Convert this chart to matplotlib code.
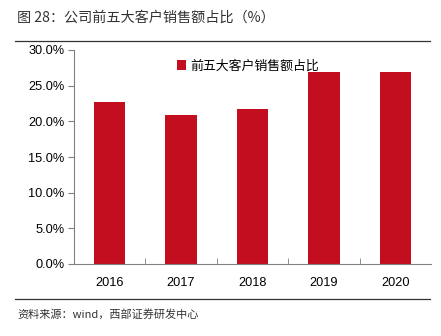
import numpy as np
import matplotlib.pyplot as plt
from matplotlib.lines import Line2D

plt.rcParams['font.family'] = ['Liberation Sans', 'Noto Sans CJK SC', 'DejaVu Sans']

years = ['2016', '2017', '2018', '2019', '2020']
share = [22.7, 20.9, 21.7, 26.9, 26.9]   # 前五大客户销售额占比, %

bar_color = '#C20E1E'
axis_color = '#808080'

fig = plt.figure(figsize=(4.41, 3.36), dpi=100)
ax = fig.add_axes([74 / 441, 1 - 264 / 336, 357 / 441, 214 / 336])

x = np.arange(len(years))
ax.bar(x, share, width=0.44, color=bar_color, label='前五大客户销售额占比', zorder=2)

ax.set_xlim(-0.5, len(years) - 0.5)
ax.set_ylim(0, 30)
ax.set_yticks(np.arange(0, 31, 5))
ax.set_yticklabels([f'{v:.1f}%' for v in np.arange(0, 31, 5)], fontsize=9.2)
ax.set_xticks(x)
ax.set_xticklabels(years, fontsize=9.2)
ax.tick_params(axis='x', length=0, pad=9)
ax.tick_params(axis='y', length=4, direction='out', color=axis_color, pad=3)
# small separators between categories
ax.set_xticks(np.arange(0.5, len(years) - 1, 1), minor=True)
ax.tick_params(axis='x', which='minor', length=4, direction='in', color=axis_color)

for side in ['top', 'right']:
    ax.spines[side].set_visible(False)
for side in ['left', 'bottom']:
    ax.spines[side].set_color(axis_color)
    ax.spines[side].set_linewidth(0.8)

leg = ax.legend(loc='upper left', bbox_to_anchor=(0.255, 1.01), frameon=False,
                prop={'family': ['Noto Sans CJK SC'], 'size': 9.3},
                handlelength=0.75, handleheight=0.75, handletextpad=0.3)

# header and footer
fig.text(17 / 441, 1 - 18 / 336, '图 28：公司前五大客户销售额占比（%）',
         family=['Noto Sans CJK SC', 'DejaVu Sans'], fontsize=10.2,
         color='#333333', va='center', ha='left')
fig.add_artist(Line2D([15 / 441, 430 / 441], [1 - 41 / 336, 1 - 41 / 336],
                      color='#333333', linewidth=0.9))
fig.add_artist(Line2D([15 / 441, 430 / 441], [1 - 299 / 336, 1 - 299 / 336],
                      color='#333333', linewidth=0.9))
fig.text(17 / 441, 1 - 314 / 336, '资料来源：wind，西部证券研发中心',
         family=['Noto Sans CJK SC', 'DejaVu Sans'], fontsize=8,
         color='#333333', va='center', ha='left')

fig.savefig('out.png', dpi=100)
